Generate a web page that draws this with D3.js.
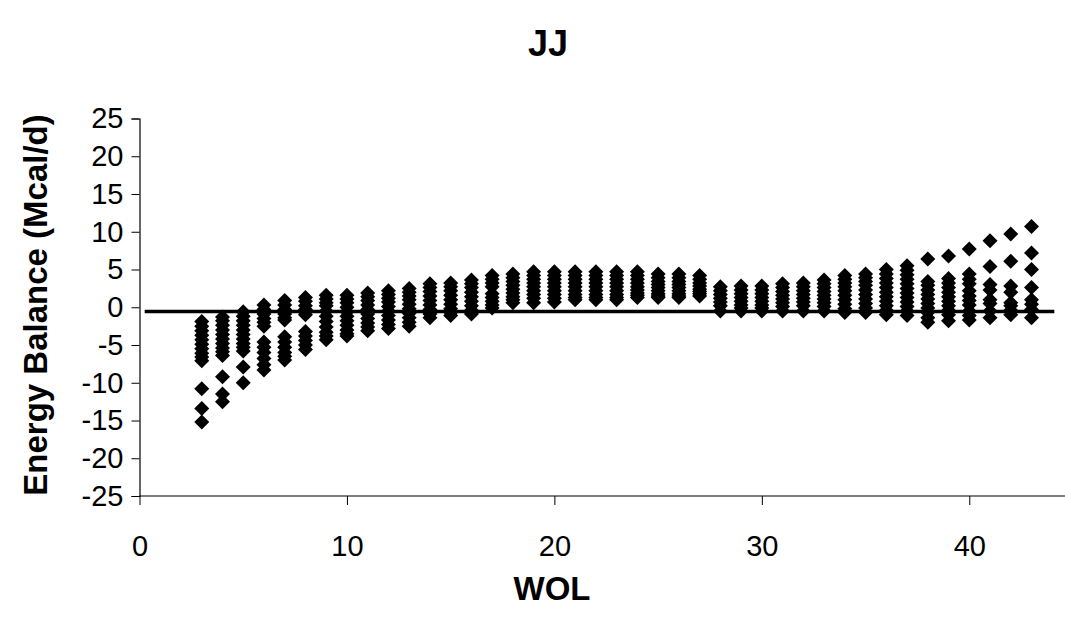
<!DOCTYPE html>
<html>
<head>
<meta charset="utf-8">
<script src="https://cdn.jsdelivr.net/npm/d3@7/dist/d3.min.js"></script>
<style>
  html, body { margin: 0; padding: 0; background: #fff; }
  svg { display: block; font-family: "Liberation Sans", Arial, sans-serif; }
</style>
</head>
<body>
<svg id="chart" width="1065" height="618"></svg>
<script>
// ---- data ----
const weeks = [3,4,5,6,7,8,9,10,11,12,13,14,15,16,17,18,19,20,21,22,23,24,25,26,27,28,29,30,31,32,33,34,35,36,37,38,39,40,41,42,43];
const balances = [
  [-1.9,-2.5,-3.1,-3.7,-4.3,-4.9,-5.5,-6.1,-6.6,-7.1,-10.8,-13.4,-15.2],
  [-1.3,-1.8,-2.4,-3.0,-3.6,-4.2,-4.8,-5.4,-5.9,-6.4,-9.2,-11.5,-12.5],
  [-0.6,-1.2,-1.8,-2.4,-3.0,-3.6,-4.2,-4.8,-5.3,-5.8,-7.9,-10.0],
  [0.3,-0.3,-0.9,-1.5,-2.0,-2.5,-4.6,-5.3,-6.0,-6.8,-7.6,-8.3],
  [0.9,0.3,-0.3,-0.9,-1.4,-1.7,-3.9,-4.6,-5.3,-6.0,-6.5,-7.0],
  [1.3,0.8,0.2,-0.3,-0.7,-1.0,-3.2,-3.8,-4.4,-5.0,-5.6],
  [1.6,1.1,0.6,0.2,-0.5,-1.2,-1.9,-2.6,-3.3,-3.8,-4.3],
  [1.6,1.1,0.6,0.0,-0.6,-1.2,-1.8,-2.4,-3.0,-3.5,-3.8],
  [1.9,1.4,0.9,0.3,-0.3,-0.9,-1.5,-2.1,-2.6,-3.1],
  [2.2,1.7,1.2,0.7,0.1,-0.5,-1.1,-1.7,-2.3,-2.8],
  [2.5,2.0,1.5,1.0,0.4,-0.2,-0.8,-1.4,-2.0,-2.5],
  [3.1,2.6,2.1,1.5,0.9,0.3,-0.3,-0.9,-1.4],
  [3.2,2.7,2.2,1.6,1.0,0.4,-0.2,-0.7,-1.1],
  [3.6,3.1,2.6,2.0,1.4,0.8,0.2,-0.4,-0.9],
  [4.2,3.7,3.2,2.7,1.8,1.3,0.8,0.3,-0.1],
  [4.4,3.9,3.4,2.9,2.4,1.9,1.4,1.0,0.6],
  [4.7,4.2,3.7,3.2,2.7,2.2,1.7,1.2,0.6],
  [4.7,4.2,3.7,3.2,2.7,2.2,1.7,1.2,0.7],
  [4.7,4.2,3.7,3.2,2.7,2.2,1.7,1.3,1.0],
  [4.7,4.2,3.7,3.2,2.7,2.2,1.7,1.3,1.0],
  [4.7,4.2,3.7,3.2,2.7,2.2,1.7,1.3,1.0],
  [4.7,4.2,3.7,3.2,2.7,2.3,1.9,1.6,1.3],
  [4.4,3.9,3.4,3.0,2.6,2.2,1.8,1.5,1.3],
  [4.4,3.9,3.4,3.0,2.6,2.2,1.8,1.5,1.3],
  [4.2,3.7,3.2,2.8,2.4,2.1,1.8,1.5],
  [2.7,2.2,1.7,1.2,0.7,0.2,-0.5],
  [2.8,2.3,1.8,1.3,0.8,0.3,-0.1,-0.5],
  [2.8,2.3,1.8,1.3,0.8,0.3,-0.1,-0.5],
  [3.1,2.6,2.1,1.6,1.1,0.6,0.1,-0.5],
  [3.2,2.7,2.2,1.7,1.2,0.7,0.2,-0.5],
  [3.6,3.1,2.6,2.1,1.6,1.1,0.6,0.1,-0.5],
  [4.2,3.7,3.2,2.7,2.2,1.6,1.0,0.4,-0.2,-0.7],
  [4.4,3.9,3.4,2.9,2.3,1.7,1.1,0.5,-0.1,-0.7],
  [5.0,4.4,3.8,3.2,2.6,2.0,1.4,0.8,0.2,-0.4,-1.0],
  [5.5,4.9,4.3,3.7,3.1,2.5,1.9,1.3,0.7,0.1,-0.5,-1.1],
  [6.4,3.4,2.9,2.3,1.7,1.1,0.5,-0.1,-0.7,-1.4,-2.0],
  [6.8,3.8,3.2,2.6,2.0,1.4,0.8,0.2,-0.4,-1.0,-1.8],
  [7.7,4.4,3.7,3.1,2.2,1.5,0.9,0.3,-0.5,-1.1,-1.7],
  [8.8,5.4,3.0,2.3,1.0,0.5,-0.5,-1.4],
  [9.7,6.1,2.8,2.0,0.6,0.2,-0.4,-1.0],
  [10.7,7.2,5.0,2.6,1.0,0.4,-0.3,-1.4]
];
const referenceLevel = -0.55;
const referenceSpan = [0.25, 44.1];
const xTicks = [0, 10, 20, 30, 40];
const yTicks = [-25, -20, -15, -10, -5, 0, 5, 10, 15, 20, 25];
const titleText = "JJ";
const xTitle = "WOL";
const yTitle = "Energy Balance (Mcal/d)";

// ---- drawing ----
const svg = d3.select("#chart");
const x = d3.scaleLinear().domain([0, 45]).range([139.5, 1073]);
const y = d3.scaleLinear().domain([-25, 25]).range([496, 118.5]);

const points = [];
weeks.forEach((w, i) => balances[i].forEach(v => points.push({w, v})));

// axes
const yAxis = svg.append("g").attr("transform", `translate(${x(0)},0)`)
  .call(d3.axisLeft(y).tickValues(yTicks).tickSize(8).tickPadding(8).tickFormat(d => String(d)));
const xAxis = svg.append("g").attr("transform", `translate(0,${y(-25)})`)
  .call(d3.axisBottom(x).tickValues(xTicks).tickSize(9).tickPadding(30).tickFormat(d => String(d)));
[xAxis, yAxis].forEach(g => {
  g.select(".domain").attr("stroke", "#000").attr("stroke-width", 1.2);
  g.selectAll(".tick line").attr("stroke", "#000").attr("stroke-width", 1);
  g.selectAll(".tick text").attr("fill", "#000").style("font-size", "29px")
    .style("font-family", '"Liberation Sans", Arial, sans-serif');
});
// extend x axis to right edge
xAxis.select(".domain").attr("d", `M${x(0)},0H1065`);

// markers
const diamond = "M0,-7.5L7.5,0L0,7.5L-7.5,0Z";
svg.append("g").selectAll("path").data(points).join("path")
  .attr("d", diamond)
  .attr("transform", d => `translate(${x(d.w)},${y(d.v)})`)
  .attr("fill", "#000");

// reference line
svg.append("line")
  .attr("x1", x(referenceSpan[0])).attr("x2", x(referenceSpan[1]))
  .attr("y1", y(referenceLevel)).attr("y2", y(referenceLevel))
  .attr("stroke", "#000").attr("stroke-width", 3.5);

// titles
svg.append("text").attr("x", 548).attr("y", 56).attr("text-anchor", "middle")
  .style("font-size", "36px").style("font-weight", "bold").text(titleText);
svg.append("text").attr("x", 552).attr("y", 600).attr("text-anchor", "middle")
  .style("font-size", "33px").style("font-weight", "bold").text(xTitle);
svg.append("text").attr("transform", "translate(47,305) rotate(-90)").attr("text-anchor", "middle")
  .style("font-size", "33px").style("font-weight", "bold").text(yTitle);
</script>
</body>
</html>
